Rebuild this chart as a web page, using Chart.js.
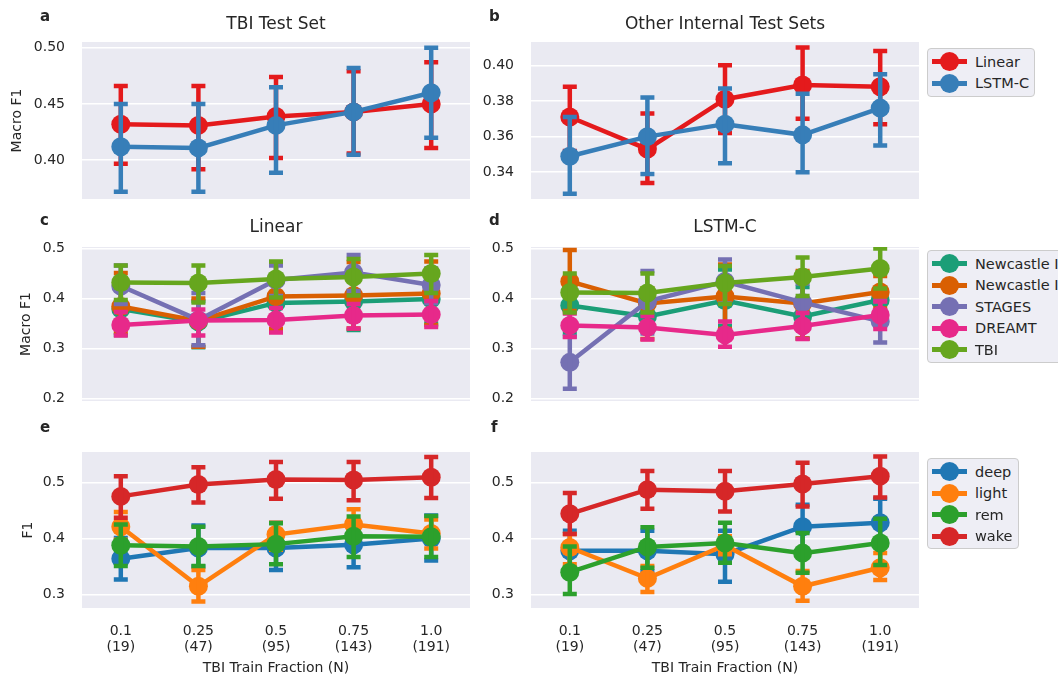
<!DOCTYPE html>
<html>
<head>
<meta charset="utf-8">
<script src="https://cdn.jsdelivr.net/npm/chart.js@4.4.0/dist/chart.umd.min.js"></script>
<style>
  body { margin: 0; background: #fff; font-family: "DejaVu Sans", sans-serif; color: #262626; }
  #fig { position: relative; width: 1058px; height: 677px; overflow: hidden; }
  canvas { position: absolute; }
  .txt { position: absolute; white-space: nowrap; line-height: 1; }
  .title { font-size: 17px; transform: translate(-50%, -50%); }
  .letter { font-size: 15px; font-weight: bold; }
  .legend { position: absolute; background: rgba(234, 234, 242, 0.8); border: 1px solid #cccccc; border-radius: 4px; box-sizing: border-box; }
  .entry { position: absolute; left: 0; width: 400px; height: 0; }
  .hline { position: absolute; left: 4px; top: -2.5px; width: 35px; height: 5px; }
  .hdot { position: absolute; left: 12px; top: -9.5px; width: 19px; height: 19px; border-radius: 50%; }
  .lab { position: absolute; left: 47px; top: 0; font-size: 14.5px; line-height: 1; transform: translateY(-50%); white-space: nowrap; }
</style>
</head>
<body>
<div id="fig">
  <canvas id="pa"></canvas>
  <canvas id="pb"></canvas>
  <canvas id="pc"></canvas>
  <canvas id="pd"></canvas>
  <canvas id="pe"></canvas>
  <canvas id="pf"></canvas>

  <div class="txt letter" style="left:40px; top:9px">a</div>
  <div class="txt letter" style="left:489px; top:9px">b</div>
  <div class="txt letter" style="left:40px; top:213px">c</div>
  <div class="txt letter" style="left:489px; top:213px">d</div>
  <div class="txt letter" style="left:40px; top:420px">e</div>
  <div class="txt letter" style="left:491px; top:420px">f</div>

  <div class="txt title" style="left:276px; top:23px">TBI Test Set</div>
  <div class="txt title" style="left:725px; top:23px">Other Internal Test Sets</div>
  <div class="txt title" style="left:276px; top:226px">Linear</div>
  <div class="txt title" style="left:725px; top:226px">LSTM-C</div>

  <div class="legend" id="legB" style="left:927px; top:48px; width:108px; height:49px"></div>
  <div class="legend" id="legD" style="left:927px; top:250px; width:200px; height:113px"></div>
  <div class="legend" id="legF" style="left:927px; top:458px; width:92px; height:91px"></div>
</div>

<script>
// x categories
const fractions = ['0.1', '0.25', '0.5', '0.75', '1.0'];
const trainN = ['(19)', '(47)', '(95)', '(143)', '(191)'];

// a: TBI test set
const tbiLinear = [0.432, 0.431, 0.439, 0.443, 0.450];
const tbiLinearLo = [0.397, 0.392, 0.402, 0.406, 0.411];
const tbiLinearHi = [0.466, 0.466, 0.474, 0.479, 0.487];
const tbiLstm = [0.412, 0.411, 0.431, 0.443, 0.460];
const tbiLstmLo = [0.372, 0.372, 0.389, 0.405, 0.420];
const tbiLstmHi = [0.450, 0.450, 0.465, 0.482, 0.500];

// b: other internal test sets
const otherLinear = [0.371, 0.353, 0.381, 0.389, 0.388];
const otherLinearLo = [0.352, 0.334, 0.362, 0.370, 0.367];
const otherLinearHi = [0.388, 0.373, 0.400, 0.410, 0.408];
const otherLstm = [0.349, 0.360, 0.367, 0.361, 0.376];
const otherLstmLo = [0.328, 0.339, 0.345, 0.340, 0.355];
const otherLstmHi = [0.371, 0.382, 0.387, 0.384, 0.395];

// c: Linear, per dataset
const linNcH = [0.379, 0.353, 0.391, 0.394, 0.399];
const linNcHLo = [0.327, 0.302, 0.338, 0.337, 0.350];
const linNcHHi = [0.440, 0.395, 0.445, 0.450, 0.442];
const linNcP = [0.384, 0.355, 0.404, 0.406, 0.410];
const linNcPLo = [0.332, 0.303, 0.339, 0.340, 0.347];
const linNcPHi = [0.451, 0.400, 0.470, 0.473, 0.474];
const linStages = [0.425, 0.357, 0.437, 0.452, 0.427];
const linStagesLo = [0.389, 0.306, 0.405, 0.415, 0.391];
const linStagesHi = [0.466, 0.411, 0.466, 0.487, 0.460];
const linDreamt = [0.347, 0.356, 0.357, 0.366, 0.368];
const linDreamtLo = [0.326, 0.326, 0.332, 0.340, 0.343];
const linDreamtHi = [0.373, 0.378, 0.381, 0.389, 0.395];

// d: LSTM-C, per dataset
const lstmNcH = [0.386, 0.364, 0.396, 0.364, 0.397];
const lstmNcHLo = [0.330, 0.335, 0.345, 0.320, 0.365];
const lstmNcHHi = [0.430, 0.392, 0.458, 0.423, 0.420];
const lstmNcP = [0.434, 0.390, 0.404, 0.390, 0.413];
const lstmNcPLo = [0.375, 0.319, 0.339, 0.320, 0.380];
const lstmNcPHi = [0.497, 0.420, 0.468, 0.455, 0.445];
const lstmStages = [0.272, 0.394, 0.434, 0.392, 0.354];
const lstmStagesLo = [0.219, 0.330, 0.390, 0.350, 0.312];
const lstmStagesHi = [0.324, 0.455, 0.478, 0.430, 0.395];
const lstmDreamt = [0.346, 0.342, 0.327, 0.345, 0.367];
const lstmDreamtLo = [0.323, 0.318, 0.303, 0.319, 0.339];
const lstmDreamtHi = [0.370, 0.365, 0.354, 0.371, 0.394];

// e: Linear, per stage
const linDeep = [0.364, 0.383, 0.383, 0.389, 0.400];
const linDeepLo = [0.327, 0.350, 0.344, 0.349, 0.361];
const linDeepHi = [0.401, 0.423, 0.428, 0.422, 0.441];
const linLight = [0.421, 0.315, 0.407, 0.425, 0.409];
const linLightLo = [0.398, 0.288, 0.380, 0.399, 0.382];
const linLightHi = [0.447, 0.344, 0.428, 0.452, 0.434];
const linRem = [0.388, 0.386, 0.390, 0.404, 0.403];
const linRemLo = [0.351, 0.351, 0.354, 0.367, 0.367];
const linRemHi = [0.425, 0.421, 0.427, 0.439, 0.440];
const linWake = [0.475, 0.496, 0.505, 0.504, 0.509];
const linWakeLo = [0.437, 0.464, 0.471, 0.468, 0.472];
const linWakeHi = [0.511, 0.527, 0.536, 0.536, 0.545];

// f: LSTM-C, per stage
const lstmDeep = [0.378, 0.378, 0.372, 0.421, 0.428];
const lstmDeepLo = [0.342, 0.342, 0.323, 0.380, 0.388];
const lstmDeepHi = [0.414, 0.414, 0.414, 0.460, 0.471];
const lstmLight = [0.384, 0.329, 0.388, 0.315, 0.348];
const lstmLightLo = [0.354, 0.305, 0.372, 0.289, 0.326];
const lstmLightHi = [0.408, 0.351, 0.404, 0.342, 0.374];
const lstmRem = [0.340, 0.385, 0.392, 0.374, 0.392];
const lstmRemLo = [0.301, 0.348, 0.357, 0.339, 0.353];
const lstmRemHi = [0.386, 0.420, 0.428, 0.410, 0.435];
const lstmWake = [0.444, 0.487, 0.484, 0.497, 0.511];
const lstmWakeLo = [0.408, 0.453, 0.448, 0.457, 0.473];
const lstmWakeHi = [0.481, 0.520, 0.520, 0.535, 0.546];

// y ticks
const ticksA = [0.40, 0.45, 0.50];
const ticksB = [0.34, 0.36, 0.38, 0.40];
const ticksMid = [0.2, 0.3, 0.4, 0.5];
const ticksLow = [0.3, 0.4, 0.5];

const modelNames = ['Linear', 'LSTM-C'];
const datasetNames = ['Newcastle Insomnia', 'Newcastle Insomnia-free', 'STAGES', 'DREAMT', 'TBI'];
const stageNames = ['deep', 'light', 'rem', 'wake'];

const modelColors = ['#e41a1c', '#377eb8'];
const datasetColors = ['#1b9e77', '#d95f02', '#7570b3', '#e7298a', '#66a61e'];
const stageColors = ['#1f77b4', '#ff7f0e', '#2ca02c', '#d62728'];

const FONT = 'DejaVu Sans';
const TXT = '#262626';

const bgPlugin = {
    id: 'bg',
    beforeDraw(chart) {
        const a = chart.chartArea;
        chart.ctx.save();
        chart.ctx.fillStyle = '#eaeaf2';
        chart.ctx.fillRect(a.left, a.top, a.right - a.left, a.bottom - a.top);
        chart.ctx.restore();
    }
};

// error bars drawn right after each dataset so later hues cover earlier ones
const errorBars = {
    id: 'errorBars',
    afterDatasetDraw(chart, args) {
        const ds = chart.data.datasets[args.index];
        if (!ds.lo) return;
        const ctx = chart.ctx;
        const y = chart.scales.y;
        const a = chart.chartArea;
        ctx.save();
        ctx.beginPath();
        ctx.rect(a.left, a.top, a.right - a.left, a.bottom - a.top);
        ctx.clip();
        ctx.strokeStyle = ds.borderColor;
        ctx.lineWidth = 4.5;
        args.meta.data.forEach((pt, i) => {
            const top = y.getPixelForValue(ds.hi[i]);
            const bot = y.getPixelForValue(ds.lo[i]);
            ctx.beginPath();
            ctx.moveTo(pt.x, top); ctx.lineTo(pt.x, bot);
            ctx.moveTo(pt.x - 7, top); ctx.lineTo(pt.x + 7, top);
            ctx.moveTo(pt.x - 7, bot); ctx.lineTo(pt.x + 7, bot);
            ctx.stroke();
        });
        ctx.restore();
    }
};

function yAxis(min, max, ticks, digits, title, titlePad, width) {
    return {
        min: min,
        max: max,
        afterBuildTicks: s => { s.ticks = ticks.map(v => ({ value: v })); },
        afterFit: s => { s.width = width; },
        ticks: { padding: 17, color: TXT, font: { family: FONT, size: 14 }, callback: v => Number(v).toFixed(digits) },
        grid: { color: '#ffffff', lineWidth: 1.6, drawTicks: false },
        border: { display: false },
        title: { display: !!title, text: title, color: TXT, font: { family: FONT, size: 14 }, padding: { top: titlePad, bottom: 0 } }
    };
}

function xAxis(show) {
    return {
        type: 'category',
        offset: true,
        display: show,
        grid: { display: false, drawTicks: false },
        border: { display: false },
        ticks: { padding: 16, color: TXT, font: { family: FONT, size: 14, lineHeight: 1.1 }, maxRotation: 0, autoSkip: false },
        title: { display: show, text: 'TBI Train Fraction (N)', color: TXT, font: { family: FONT, size: 14 }, padding: { top: 0, bottom: 0 } },
        afterFit: s => { if (show) s.height = 69; }
    };
}

function panel(id, left, top, w, h, pad, y, showX, names, colors, means, los, his) {
    const canvas = document.getElementById(id);
    canvas.width = w;
    canvas.height = h;
    canvas.style.left = left + 'px';
    canvas.style.top = top + 'px';
    const n = names.length;
    new Chart(canvas, {
        type: 'line',
        data: {
            labels: fractions.map((f, i) => [f, trainN[i]]),
            datasets: names.map((name, i) => ({
                label: name,
                data: means[i],
                lo: los[i],
                hi: his[i],
                borderColor: colors[i],
                backgroundColor: colors[i],
                pointBackgroundColor: colors[i],
                borderWidth: 4.5,
                pointRadius: 9.5,
                pointHoverRadius: 9.5,
                pointBorderWidth: 0,
                tension: 0,
                order: n - i
            }))
        },
        options: {
            responsive: false,
            animation: false,
            devicePixelRatio: 1,
            events: [],
            layout: { padding: pad, autoPadding: false },
            plugins: { legend: { display: false }, tooltip: { enabled: false } },
            scales: { x: xAxis(showX), y: y }
        },
        plugins: [bgPlugin, errorBars]
    });
}

function legend(id, names, colors) {
    const box = document.getElementById(id);
    names.forEach((name, i) => {
        const e = document.createElement('div');
        e.className = 'entry';
        e.style.top = (12.7 + i * 21.5) + 'px';
        e.innerHTML = '<div class="hline" style="background:' + colors[i] + '"></div>' +
            '<div class="hdot" style="background:' + colors[i] + '"></div>' +
            '<div class="lab">' + name + '</div>';
        box.appendChild(e);
    });
}

// y tick labels need ~25px above/below the plot, so canvases start 30px out
const padMid = { top: 30, bottom: 30, left: 0, right: 0 };
const padLow = { top: 30, bottom: 0, left: 0, right: 0 };

panel('pa', 0, 12, 470, 217, padMid, yAxis(0.3656, 0.5051, ticksA, 2, 'Macro F1', 9, 82), false,
    modelNames, modelColors, [tbiLinear, tbiLstm], [tbiLinearLo, tbiLstmLo], [tbiLinearHi, tbiLstmHi]);
panel('pb', 460, 12, 459, 217, padMid, yAxis(0.325, 0.4131, ticksB, 2, '', 0, 71), false,
    modelNames, modelColors, [otherLinear, otherLstm], [otherLinearLo, otherLstmLo], [otherLinearHi, otherLstmHi]);
panel('pc', 0, 217, 470, 214, padMid, yAxis(0.1946, 0.503, ticksMid, 1, 'Macro F1', 18, 82), false,
    datasetNames, datasetColors,
    [linNcH, linNcP, linStages, linDreamt, tbiLinear],
    [linNcHLo, linNcPLo, linStagesLo, linDreamtLo, tbiLinearLo],
    [linNcHHi, linNcPHi, linStagesHi, linDreamtHi, tbiLinearHi]);
panel('pd', 460, 217, 459, 214, padMid, yAxis(0.1946, 0.503, ticksMid, 1, '', 0, 71), false,
    datasetNames, datasetColors,
    [lstmNcH, lstmNcP, lstmStages, lstmDreamt, tbiLstm],
    [lstmNcHLo, lstmNcPLo, lstmStagesLo, lstmDreamtLo, tbiLstmLo],
    [lstmNcHHi, lstmNcPHi, lstmStagesHi, lstmDreamtHi, tbiLstmHi]);
panel('pe', 0, 422, 470, 255, padLow, yAxis(0.2763, 0.554, ticksLow, 1, 'F1', 20, 82), true,
    stageNames, stageColors,
    [linDeep, linLight, linRem, linWake],
    [linDeepLo, linLightLo, linRemLo, linWakeLo],
    [linDeepHi, linLightHi, linRemHi, linWakeHi]);
panel('pf', 460, 422, 459, 255, padLow, yAxis(0.2763, 0.554, ticksLow, 1, '', 0, 71), true,
    stageNames, stageColors,
    [lstmDeep, lstmLight, lstmRem, lstmWake],
    [lstmDeepLo, lstmLightLo, lstmRemLo, lstmWakeLo],
    [lstmDeepHi, lstmLightHi, lstmRemHi, lstmWakeHi]);

legend('legB', modelNames, modelColors);
legend('legD', datasetNames, datasetColors);
legend('legF', stageNames, stageColors);
</script>
</body>
</html>
